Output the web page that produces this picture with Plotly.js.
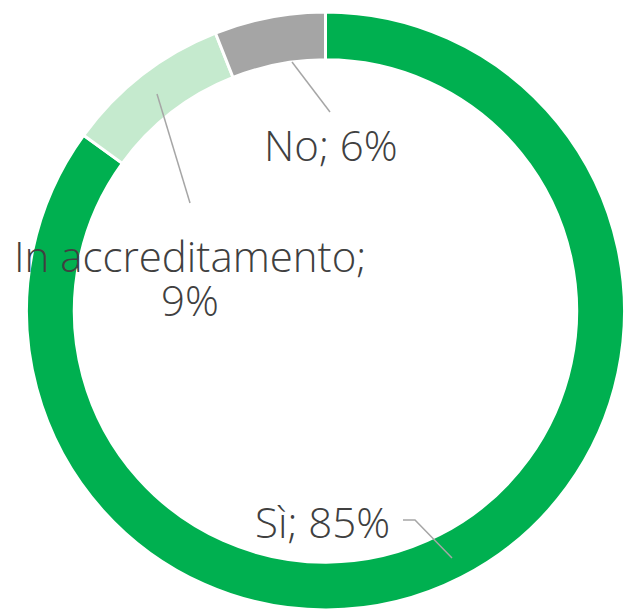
<!DOCTYPE html>
<html>
<head>
<meta charset="utf-8">
<script src="https://cdn.plot.ly/plotly-3.0.1.min.js"></script>
<style>html,body{margin:0;padding:0;background:#fff;overflow:hidden;}</style>
</head>
<body>
<div id="chart"></div>
<script>
const categories = ["Sì", "In accreditamento", "No"];
const values = [85, 9, 6];
const colors = ["#00B050", "#C5EACE", "#A5A5A5"];

const W = 625, H = 610, ML = 26, MT = 12, MR = 0, MB = 0;
const PW = W - ML - MR, PH = H - MT - MB;
const px = x => (x - ML) / PW;
const py = y => 1 - (y - MT) / PH;

const textColor = "#404040";
const font = {family: "Open Sans, sans-serif", size: 42, color: textColor, weight: 300};

// each label: list of lines, with centre positions (pixels)
const labelLines = [
  [[categories[0] + "; " + values[0] + "%", 322, 521]],
  [[categories[1] + ";", 190, 256], [values[1] + "%", 190, 299]],
  [[categories[2] + "; " + values[2] + "%", 331, 145]]
];

const annotations = [];
labelLines.forEach(lines => lines.forEach(([t, x, y]) => annotations.push({
  text: t, x: px(x), y: py(y), xref: "paper", yref: "paper",
  xanchor: "center", yanchor: "middle", showarrow: false, font: font, align: "center"
})));

const lineStyle = {color: "#A6A6A6", width: 1.5};
const shapes = [
  {type: "path", xref: "paper", yref: "paper", line: lineStyle,
   path: `M ${px(403)} ${py(520)} L ${px(415)} ${py(520)} L ${px(452)} ${py(558)}`},
  {type: "line", xref: "paper", yref: "paper", line: lineStyle,
   x0: px(157), y0: py(94), x1: px(190), y1: py(203)},
  {type: "line", xref: "paper", yref: "paper", line: lineStyle,
   x0: px(292), y0: py(62), x1: px(330), y1: py(112)}
];

const data = [{
  type: "pie",
  labels: categories,
  values: values,
  hole: 0.84,
  sort: false,
  direction: "clockwise",
  rotation: 0,
  textinfo: "none",
  hoverinfo: "label+percent",
  marker: {colors: colors, line: {color: "#FFFFFF", width: 3}},
  showlegend: false
}];

const layout = {
  width: W, height: H,
  margin: {l: ML, r: MR, t: MT, b: MB, pad: 0},
  paper_bgcolor: "#FFFFFF",
  plot_bgcolor: "#FFFFFF",
  annotations: annotations,
  shapes: shapes,
  showlegend: false
};

Plotly.newPlot("chart", data, layout, {displayModeBar: false, staticPlot: true});
</script>
</body>
</html>
